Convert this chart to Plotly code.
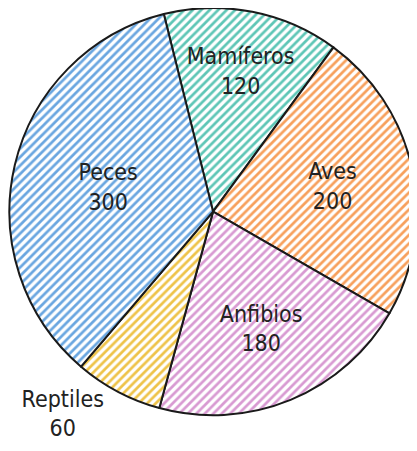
import plotly.graph_objects as go

# Animal groups and counts, clockwise from the top
labels = ["Mamíferos", "Aves", "Anfibios", "Reptiles", "Peces"]
values = [120, 200, 180, 60, 300]
colors = ["#5ec6b6", "#f7a05c", "#d89ad2", "#eec349", "#6aa6e0"]
text_pos = ["inside", "inside", "inside", "outside", "inside"]

fig = go.Figure(
    go.Pie(
        labels=labels,
        values=values,
        sort=False,
        direction="clockwise",
        rotation=-14,
        texttemplate="%{label}<br>%{value}",
        textposition=text_pos,
        insidetextorientation="horizontal",
        automargin=False,
        domain=dict(x=[0.0025, 0.981], y=[0.097, 1.0]),
        textfont=dict(family="DejaVu Sans Condensed", size=23, color="#222222"),
        marker=dict(
            colors=colors,
            line=dict(color="#1a1a1a", width=2),
            pattern=dict(
                shape="/",
                fgcolor=colors,
                bgcolor="white",
                size=6,
                solidity=0.45,
                fillmode="replace",
            ),
        ),
        hoverinfo="label+value",
        showlegend=False,
    )
)

fig.update_layout(
    width=417,
    height=451,
    margin=dict(l=0, r=0, t=0, b=0, autoexpand=False),
    paper_bgcolor="white",
    plot_bgcolor="white",
)

fig.write_html("out.html")
